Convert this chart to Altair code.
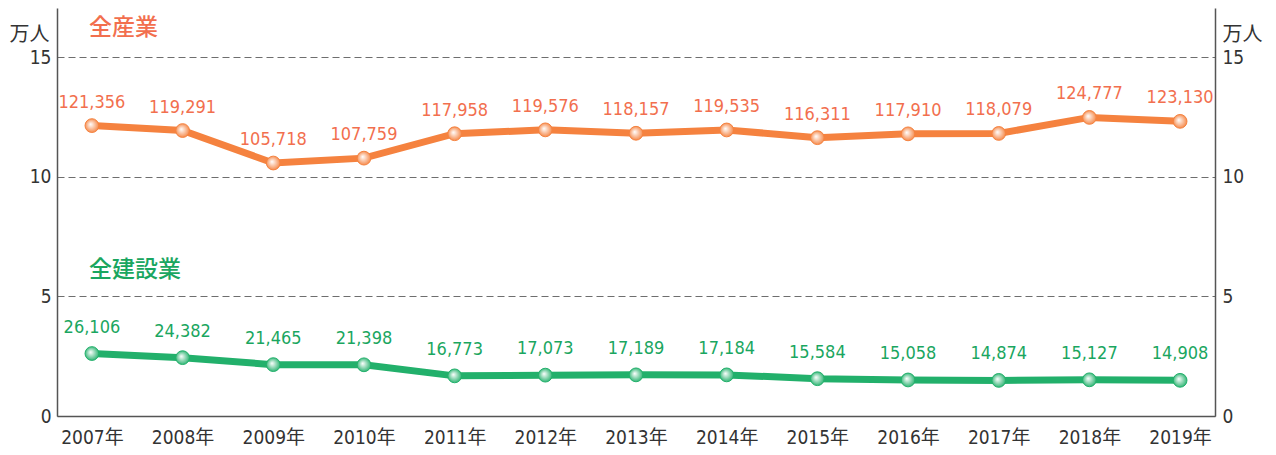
import altair as alt
import pandas as pd

years = ["2007年", "2008年", "2009年", "2010年", "2011年", "2012年", "2013年",
         "2014年", "2015年", "2016年", "2017年", "2018年", "2019年"]
all_industry = [121356, 119291, 105718, 107759, 117958, 119576, 118157,
                119535, 116311, 117910, 118079, 124777, 123130]
construction = [26106, 24382, 21465, 21398, 16773, 17073, 17189,
                17184, 15584, 15058, 14874, 15127, 14908]
series_names = ["全産業", "全建設業"]
series_title_y = [16.2, 6.1]

ORANGE_LINE = "#F5823F"
ORANGE_TEXT = "#F26F4E"
GREEN_LINE = "#22B06B"
GREEN_TEXT = "#1AA660"
NUM_FONT = "DejaVu Sans Condensed, Roboto, sans-serif"
CJK_FONT = "Noto Sans CJK JP"

YMAX = 17.05

rows = []
for y, a, c in zip(years, all_industry, construction):
    rows.append({"year": y, "series": series_names[0], "v": a / 10000, "label": f"{a:,}"})
    rows.append({"year": y, "series": series_names[1], "v": c / 10000, "label": f"{c:,}"})
df = pd.DataFrame(rows)
df_o = df[df.series == series_names[0]]
df_g = df[df.series == series_names[1]]

titles = pd.DataFrame({"year": [years[0], years[0]], "v": series_title_y,
                       "name": series_names})

xenc = alt.X("year:O", sort=years,
             scale=alt.Scale(type="point", padding=0.385),
             axis=alt.Axis(title=None, labelAngle=0, ticks=False, labelPadding=12,
                           labelFontSize=19, labelColor="#333333",
                           labelFont="DejaVu Sans Condensed, Noto Sans CJK JP",
                           domainColor="#555555", domainWidth=1.5, grid=False))

yscale = alt.Scale(domain=[0, YMAX], nice=False, zero=True)

def yaxis(orient):
    return alt.Axis(orient=orient, values=[0, 5, 10, 15], ticks=False,
                    title="万人", titleAngle=0, titleFont=CJK_FONT, titleFontSize=20,
                    titleFontWeight="normal", titleColor="#333333",
                    titleX=-28 if orient == "left" else 27, titleY=26,
                    titleAlign="center", titleBaseline="middle",
                    labelFont=NUM_FONT, labelFontSize=19, labelColor="#333333",
                    labelPadding=6 if orient == "left" else 7,
                    grid=(orient == "left"), gridDash=[7, 4], gridColor="#6E6E6E",
                    gridWidth=1.2, domainColor="#555555", domainWidth=1.5)

def grad(color):
    return alt.RadialGradient(gradient="radial",
                              stops=[alt.GradientStop(offset=0, color="#FFFFFF"),
                                     alt.GradientStop(offset=1, color=color)],
                              x1=0.4, y1=0.4, r1=0, x2=0.5, y2=0.5, r2=0.55)

yenc_left = alt.Y("v:Q", scale=yscale, axis=yaxis("left"))

def layers(d, line_c, text_c, dy):
    base = alt.Chart(d).encode(x=xenc, y=yenc_left)
    line = base.mark_line(color=line_c, strokeWidth=7)
    pts = base.mark_point(filled=True, size=190, fill=grad(line_c), opacity=1,
                          stroke=line_c, strokeWidth=1)
    txt = base.mark_text(dy=dy, color=text_c, font=NUM_FONT, fontSize=18).encode(text="label:N")
    return [line, pts, txt]

right = alt.Chart(df_o).mark_point(opacity=0).encode(
    x=xenc, y=alt.Y("v:Q", scale=yscale, axis=yaxis("right")))

title_layer = alt.Chart(titles).mark_text(align="left", baseline="middle", font=CJK_FONT,
                                          fontSize=23, fontWeight=500, dx=-3).encode(
    x=xenc, y=yenc_left, text="name:N",
    color=alt.Color("name:N", scale=alt.Scale(domain=series_names,
                                              range=[ORANGE_TEXT, GREEN_TEXT]), legend=None))

left = alt.layer(*layers(df_o, ORANGE_LINE, ORANGE_TEXT, -23),
                 *layers(df_g, GREEN_LINE, GREEN_TEXT, -26),
                 title_layer)

chart = alt.layer(left, right).resolve_scale(y="independent").properties(
    width=1158, height=408,
    padding={"left": 49, "top": 0, "right": 53, "bottom": 31},
    autosize=alt.AutoSizeParams(type="none"),
    background="white",
).configure_view(stroke=None, strokeWidth=0)

chart.save("out.html", embed_options={"renderer": "svg", "actions": False})
